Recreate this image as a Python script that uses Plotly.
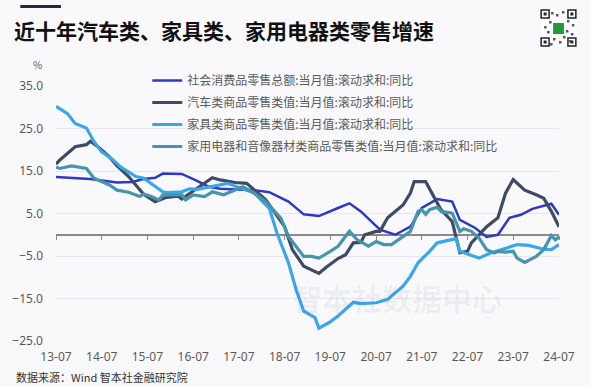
import plotly.graph_objects as go

# ---------------- data ----------------
retail_dates = ["2013-07", "2014-04", "2014-11", "2015-03", "2015-06", "2015-09", "2015-11",
                "2016-04", "2016-08", "2016-11", "2017-02", "2017-11", "2018-03", "2018-08",
                "2018-12", "2019-04", "2019-09", "2019-12", "2020-03", "2020-08", "2020-12",
                "2021-04", "2021-07", "2021-11", "2022-03", "2022-05", "2022-09", "2022-12",
                "2023-03", "2023-06", "2023-09", "2023-12", "2024-05", "2024-07"]
retail_vals = [13.6, 13.1, 12.3, 12.4, 13.1, 13.4, 14.4,
               14.3, 12.7, 11.3, 10.8, 10.5, 10.0, 7.8,
               4.8, 4.4, 6.3, 7.4, 5.5, 1.2, 0.0,
               1.9, 6.3, 8.4, 7.8, 3.5, 1.6, -0.5,
               0.0, 4.0, 4.7, 6.1, 7.3, 4.7]

auto_dates = ["2013-07", "2013-08", "2013-12", "2014-03", "2014-04", "2014-06", "2014-09",
              "2014-11", "2015-02", "2015-04", "2015-06", "2015-09", "2015-12", "2016-03",
              "2016-04", "2016-07", "2016-12", "2017-02", "2017-06", "2017-09", "2017-11",
              "2018-02", "2018-07", "2018-09", "2018-12", "2019-02", "2019-04", "2019-06",
              "2019-09", "2019-11", "2020-01", "2020-03", "2020-04", "2020-07", "2020-08",
              "2020-10", "2021-02", "2021-04", "2021-05", "2021-08", "2021-10", "2021-12",
              "2022-02", "2022-03", "2022-05", "2022-07", "2022-08", "2022-12", "2023-03",
              "2023-05", "2023-07", "2023-10", "2024-01", "2024-03", "2024-05", "2024-07"]
auto_vals = [16.6, 17.6, 20.7, 21.2, 22.0, 20.7, 18.3,
             16.2, 13.7, 11.5, 9.5, 7.8, 8.8, 9.1,
             8.4, 10.3, 13.4, 12.9, 12.3, 12.1, 10.5,
             8.2, 1.9, -3.5, -7.4, -8.2, -9.1, -7.6,
             -5.6, -4.7, -1.9, -1.8, 0.0, 0.8, 0.8,
             4.0, 7.0, 9.8, 12.5, 12.5, 9.0, 5.9,
             4.0, 3.1, -4.2, -3.9, -1.9, 1.9, 4.0,
             9.8, 13.0, 10.5, 9.4, 8.6, 5.5, 1.9]

furn_dates = ["2013-07", "2013-10", "2013-11", "2013-12", "2014-03", "2014-05", "2014-07",
              "2014-10", "2014-12", "2015-02", "2015-04", "2015-06", "2015-08", "2015-11",
              "2015-12", "2016-04", "2016-06", "2016-08", "2017-04", "2017-08", "2017-11",
              "2018-03", "2018-05", "2018-08", "2018-10", "2018-12", "2019-03", "2019-04",
              "2019-07", "2019-09", "2020-01", "2020-03", "2020-07", "2020-10", "2021-02",
              "2021-04", "2021-06", "2021-09", "2021-11", "2022-04", "2022-05", "2022-10",
              "2023-01", "2023-04", "2023-08", "2023-11", "2024-03", "2024-05", "2024-07"]
furn_vals = [30.2, 28.5, 27.3, 26.2, 25.1, 21.9, 19.5,
             17.6, 15.9, 14.8, 13.7, 13.3, 12.1, 10.1,
             9.9, 10.1, 10.8, 10.7, 12.1, 10.9, 9.8,
             6.2, 0.4, -6.6, -12.9, -18.0, -19.5, -22.0,
             -20.5, -19.1, -15.9, -16.2, -16.0, -15.2, -12.1,
             -9.8, -6.6, -3.9, -1.9, -0.9, -3.9, -5.5,
             -4.3, -3.5, -2.3, -2.5, -3.4, -3.5, -2.3]

appl_dates = ["2013-07", "2013-08", "2013-11", "2014-03", "2014-05", "2014-07", "2014-09",
              "2014-11", "2015-02", "2015-05", "2015-06", "2015-08", "2015-10", "2015-11",
              "2016-04", "2016-05", "2016-07", "2016-10", "2016-12", "2017-03", "2017-06",
              "2017-08", "2017-11", "2018-02", "2018-06", "2018-08", "2018-12", "2019-02",
              "2019-04", "2019-06", "2019-07", "2019-09", "2019-12", "2020-02", "2020-05",
              "2020-07", "2020-09", "2020-11", "2021-02", "2021-04", "2021-06", "2021-07",
              "2021-08", "2021-09", "2021-11", "2021-12", "2022-03", "2022-05", "2022-06",
              "2022-08", "2022-10", "2022-12", "2023-02", "2023-03", "2023-05", "2023-07",
              "2023-08", "2023-10", "2024-01", "2024-03", "2024-05", "2024-06", "2024-07"]
appl_vals = [15.9, 15.6, 16.2, 15.6, 13.3, 12.5, 11.7,
             10.5, 10.0, 9.0, 9.6, 9.0, 8.2, 9.4,
             9.4, 8.2, 9.4, 9.0, 10.1, 9.4, 10.5,
             11.3, 9.8, 7.8, 3.9, -0.4, -5.1, -5.1,
             -5.5, -4.5, -3.9, -2.7, 0.8, -1.2, -2.7,
             -1.6, -2.3, -2.3, -0.5, 0.8, 5.5, 5.9,
             4.8, 5.9, 6.5, 5.5, 5.1, 0.8, 1.4,
             0.8, -0.8, -3.5, -4.3, -3.9, -4.1, -3.9,
             -5.5, -6.5, -5.1, -3.5, -0.2, -1.2, -0.5]

series_names = ["社会消费品零售总额:当月值:滚动求和:同比",
                "汽车类商品零售类值:当月值:滚动求和:同比",
                "家具类商品零售类值:当月值:滚动求和:同比",
                "家用电器和音像器材类商品零售类值:当月值:滚动求和:同比"]
series_colors = ["#2F37C9", "#3E4B62", "#3AA6EC", "#4694AE"]

title_text = "近十年汽车类、家具类、家用电器类零售增速"
source_text = "数据来源：Wind 智本社金融研究院"
watermark_text = "智本社数据中心"

Y_MIN, Y_MAX = -25, 35
X_START, X_END = "2013-07-01", "2024-07-01"

# ---------------- figure ----------------
W, H = 591, 387
ML, MR, MT, MB = 52, 32, 86, 46
BG = "#F9F9FC"

def px(x, y):
    """pixel -> paper coordinates (decoration only)"""
    return (x - ML) / (W - ML - MR), (H - MB - y) / (H - MT - MB)

fig = go.Figure()
data = [(retail_dates, retail_vals, 2.5), (auto_dates, auto_vals, 3.2),
        (furn_dates, furn_vals, 3.2), (appl_dates, appl_vals, 3.2)]
for i, (d, v, w) in enumerate(data):
    fig.add_trace(go.Scatter(x=d, y=v, mode="lines", name=series_names[i],
                             legendgroup=f"g{i}",
                             line=dict(color=series_colors[i], width=w)))

# dummy trace so the zero-line axis with ticks is drawn
fig.add_trace(go.Scatter(x=[X_START], y=[None], xaxis="x2", showlegend=False,
                         hoverinfo="skip"))

zero_pos = (0 - Y_MIN) / (Y_MAX - Y_MIN)

fig.update_layout(
    width=W, height=H,
    margin=dict(l=ML, r=MR, t=MT, b=MB),
    paper_bgcolor=BG, plot_bgcolor=BG,
    font=dict(family="Noto Sans CJK SC", color="#595959", size=12),
    xaxis=dict(type="date", range=[X_START, X_END], dtick="M12", tick0=X_START,
               tickformat="%y-%m", showgrid=False, showline=False, zeroline=False,
               ticks="", ticklabelstandoff=7,
               tickfont=dict(size=12, color="#595959", family="Noto Sans")),
    xaxis2=dict(type="date", overlaying="x", matches="x", anchor="free",
                position=zero_pos, showline=True, linecolor="#8A8A8A", linewidth=1.5,
                ticks="outside", ticklen=4, tickcolor="#8A8A8A", tickwidth=1.2,
                dtick="M12", tick0=X_START, showticklabels=False, showgrid=False,
                layer="below traces"),
    yaxis=dict(range=[Y_MIN, Y_MAX], dtick=10, tick0=5, tickformat=".1f",
               showgrid=True, gridcolor="#E6E6EC", gridwidth=1, zeroline=False,
               showline=False, ticks="", ticklabelstandoff=12,
               tickfont=dict(size=12, color="#595959", family="Noto Sans")),
    legend=dict(x=px(144, 0)[0], y=px(0, 66)[1], xanchor="left", yanchor="top",
                bgcolor="rgba(0,0,0,0)", tracegroupgap=3, itemwidth=30,
                font=dict(size=12, color="#595959", family="Noto Sans CJK SC")),
    showlegend=True,
)

# title and decorations
fig.add_annotation(xref="paper", yref="paper", x=px(8, 0)[0], y=px(0, 30)[1],
                   xanchor="left", yanchor="middle", showarrow=False,
                   text=f"<b>{title_text}</b>",
                   font=dict(size=21, color="#111111", family="Noto Sans CJK SC"))
x0, y0 = px(16, 5); x1, y1 = px(57, 8)
fig.add_shape(type="rect", xref="paper", yref="paper", x0=x0, y0=y0, x1=x1, y1=y1,
              fillcolor="#1E2A45", line_width=0)
fig.add_annotation(xref="paper", yref="paper", x=px(33, 0)[0], y=px(0, 64)[1],
                   xanchor="center", yanchor="middle", showarrow=False, text="%",
                   font=dict(size=10, color="#595959"))
fig.add_annotation(xref="paper", yref="paper", x=px(10, 0)[0], y=px(0, 377)[1],
                   xanchor="left", yanchor="middle", showarrow=False, text=source_text,
                   font=dict(size=11, color="#333333", family="Noto Sans CJK SC"))
fig.add_annotation(xref="paper", yref="paper", x=px(396, 0)[0], y=px(0, 297)[1],
                   xanchor="center", yanchor="middle", showarrow=False,
                   text=f"<b>{watermark_text}</b>",
                   font=dict(size=30, color="rgba(60,60,90,0.06)",
                             family="Noto Sans CJK SC"))

# QR-code-like badge (decoration)
qx0, qy0, qx1, qy1 = 541, 10, 576, 46
a, b = px(qx0, qy1); c, d = px(qx1, qy0)
fig.add_shape(type="rect", xref="paper", yref="paper", x0=a, y0=b, x1=c, y1=d,
              fillcolor="#FFFFFF", line_width=0)
for fx, fy in [(qx0, qy0), (qx1 - 8, qy0), (qx0, qy1 - 8), (qx1 - 8, qy1 - 8)]:
    a, b = px(fx, fy + 8); c, d = px(fx + 8, fy)
    fig.add_shape(type="rect", xref="paper", yref="paper", x0=a, y0=b, x1=c, y1=d,
                  fillcolor="#FFFFFF", line=dict(color="#222222", width=1.5))
    a, b = px(fx + 2.5, fy + 5.5); c, d = px(fx + 5.5, fy + 2.5)
    fig.add_shape(type="rect", xref="paper", yref="paper", x0=a, y0=b, x1=c, y1=d,
                  fillcolor="#222222", line_width=0)
for (gx, gy) in [(551, 12), (556, 14), (562, 11), (549, 21), (567, 20), (572, 24),
                 (544, 26), (547, 31), (566, 30), (571, 33), (553, 38), (559, 41),
                 (563, 36), (550, 43), (569, 40)]:
    a, b = px(gx, gy + 2.5); c, d = px(gx + 2.5, gy)
    fig.add_shape(type="rect", xref="paper", yref="paper", x0=a, y0=b, x1=c, y1=d,
                  fillcolor="#555555", line_width=0)
a, b = px(553, 34); c, d = px(564, 23)
fig.add_shape(type="rect", xref="paper", yref="paper", x0=a, y0=b, x1=c, y1=d,
              fillcolor="#1E9A3A", line_width=0)

fig.write_html("out.html", config={"displayModeBar": False},
               post_script="document.body.style.margin='0';"
                           "document.body.style.overflow='hidden';"
                           "document.body.style.background='" + BG + "';")
